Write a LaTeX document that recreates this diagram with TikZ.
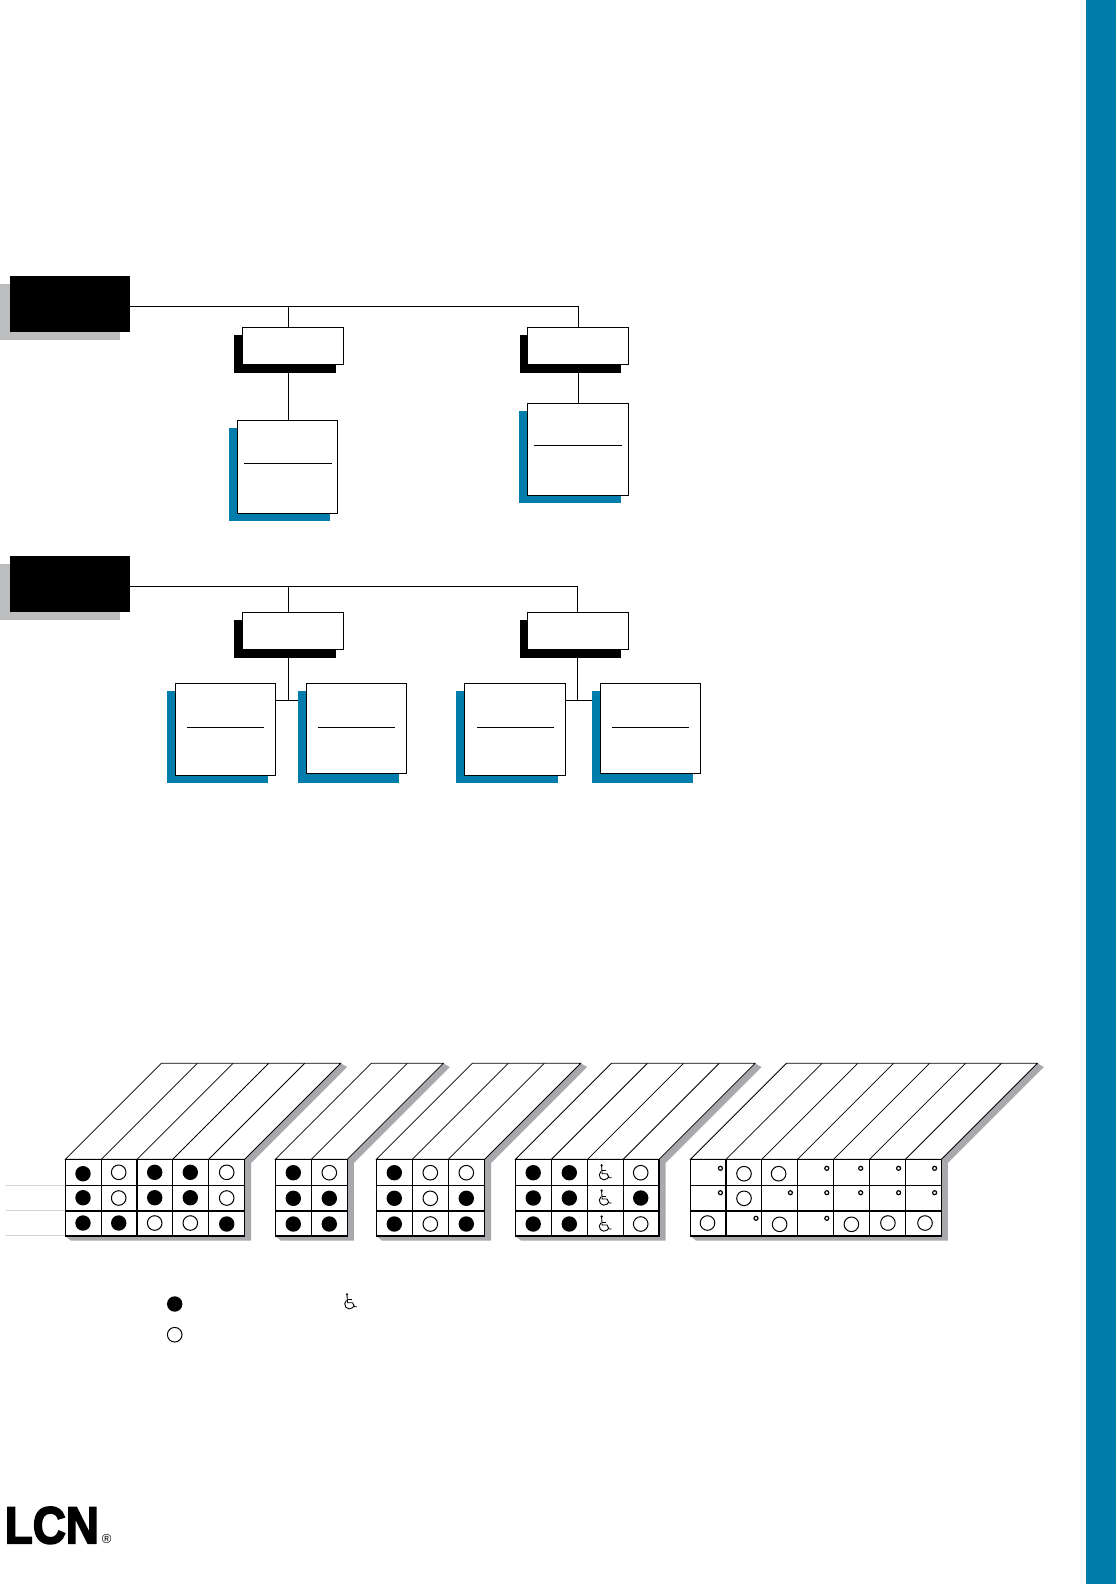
\documentclass[tikz,border=0pt]{standalone}
\usepackage{fontspec}
\usepackage{xcolor}
\usepackage{tikz}
\usetikzlibrary{backgrounds}
\newfontfamily\logofont[FakeBold=3.5]{Liberation Sans Bold}
\newfontfamily\markfont{Liberation Sans}
\definecolor{lcnblue}{HTML}{007DAB}
\definecolor{headgray}{HTML}{BCBEC0}
\definecolor{tablegray}{HTML}{A7A9AC}
\definecolor{rulegray}{HTML}{D1D3D4}
\tikzset{
    headbox/.style={fill=black, inner sep=0pt, outer sep=0pt, anchor=north west, minimum width=60pt, minimum height=28pt},
    subbox/.style={draw, fill=white, line width=0.5pt, inner sep=0pt, outer sep=0pt, anchor=north west, minimum width=50.5pt, minimum height=18.7pt},
    card/.style={draw, fill=white, line width=0.5pt, inner sep=0pt, outer sep=0pt, anchor=north west},
    wire/.style={line width=0.5pt},
    grid/.style={line width=0.55pt},
    skew/.style={line width=0.4pt},
    wheelchair/.pic={
        \fill (-3,-7.5) circle (1.2);
        \draw[line width=0.45pt] (-3,-7) -- (-2.5,1) -- (2.5,1) -- (4.5,5) -- (7,5);
        \draw[line width=0.45pt] (-2.5,-2) -- (1.5,-2);
        \draw[line width=0.45pt] (-3.6,-1.3) arc[start angle=230, end angle=20, radius=4.8];
    }
}

\begin{document}
\begin{tikzpicture}[x=0.5pt, y=-0.5pt]
    \useasboundingbox (0,0) rectangle (1116,1584);
    \fill[lcnblue] (1086,0) rectangle (1116,1584);

    \node[headbox] (heada) at (10,276) {};
    \node[headbox] (headb) at (10,555.5) {};
    \foreach \n/\xa/\ya in {subal/242.5/327.3,subar/527.5/327.3,subbl/242.5/612.3,subbr/527.5/612.3}
        \node[subbox] (\n) at (\xa,\ya) {};
    \foreach \n/\xa/\ya/\xb/\yb/\la/\lb/\ly in {
        cardal/237.5/420.3/337.7/513.3/244/332/463.3,
        cardar/527.5/403/628.5/495/533.5/622/445.5,
        cardbl/175/683.3/275.4/775.3/187/264/727.3,
        cardbm/306.4/683.3/406.4/773/318/395/727.3,
        cardbn/464.3/683.3/565.4/775.3/477/554/727.3,
        cardbr/600.4/683.3/700.4/773/612/689/727.3}
    {
        \node[card, minimum width={(\xb-\xa)*0.5pt}, minimum height={(\yb-\ya)*0.5pt}] (\n) at (\xa,\ya) {};
        \draw[wire] (\la,\ly) -- (\lb,\ly);
    }

    \coordinate (busa) at (288,306.3);
    \coordinate (busaend) at (578,306.3);
    \coordinate (busb) at (288,586.3);
    \coordinate (busbend) at (577.5,586.3);
    \coordinate (hubl) at (288,700.3);
    \coordinate (hubr) at (577.5,700.3);

    \begin{scope}[on background layer]
        \draw[wire] (heada.east |- busa) -- (busaend) -- (cardar.north -| busaend);
        \draw[wire] (busa) -- (cardal.north -| busa);
        \draw[wire] (headb.east |- busb) -- (busbend) -- (hubr);
        \draw[wire] (busb) -- (hubl);
        \draw[wire] (cardbl.east |- hubl) -- (cardbm.west |- hubl);
        \draw[wire] (cardbn.east |- hubr) -- (cardbr.west |- hubr);
        \fill[headgray] (0,284) rectangle (120,340);
        \fill[headgray] (0,563.5) rectangle (120,619.5);
        \foreach \xa/\ya/\xb/\yb in {234/335/336/373,520/335/621/373,234/620/336/657.7,520/620/621/657.7}
            \fill (\xa,\ya) rectangle (\xb,\yb);
        \foreach \xa/\ya/\xb/\yb in {229/428/330/520.7,519/411/621/502.7,167/691/268/782.7,298/691/399/782.7,456/691/558/782.7,592/691/693/782.7}
            \fill[lcnblue] (\xa,\ya) rectangle (\xb,\yb);
    \end{scope}

    \foreach \y in {1185.3,1210.7,1235.3}
        \draw[rulegray, line width=0.4pt] (5.7,\y) -- (65.3,\y);

    \foreach \xa/\xb/\xs in {
        65.3/244.7/{101.3,137,172.7,208.7},
        275.3/347.3/{311.3},
        376.3/484.7/{412.3,448.3},
        515.4/659/{551.4,587.5,623.2},
        690.4/941.4/{726,761.8,797.5,833.6,869.6,905.4}}
    {
        \fill[tablegray] (\xa+5.7,1240.7) -- (\xb+6.5,1240.7) -- (\xb+6.5,1163) -- (\xb+102.5,1067) -- (\xb+96,1063.3) -- (\xb,1159.3) -- (\xa,1236) -- cycle;
        \draw[skew, fill=white] (\xa,1159.3) -- (\xa+96,1063.3) -- (\xb+96,1063.3) -- (\xb,1159.3) -- cycle;
        \fill[white] (\xa,1159.3) rectangle (\xb,1236);
        \foreach \x in \xs {
            \draw[skew] (\x,1159.3) -- ++(96,-96);
            \draw[grid] (\x,1159.3) -- (\x,1236);
        }
        \draw[grid] (\xa,1159.3) rectangle (\xb,1236);
        \draw[grid] (\xa,1185.3) -- (\xb,1185.3) (\xa,1211) -- (\xb,1211);
    }
    \draw[grid] (208.7,1236) -- (208.7,1236.7) -- (244.7,1236.7) -- (244.7,1236);

    \foreach \x/\y in {83/1173.7,83/1197.7,83/1223,118.7/1223,154.7/1172.3,154.7/1197.7,190.3/1172.3,190.3/1197.7,226.7/1224,
        293.3/1172.7,293.3/1198.3,293.3/1224,329.3/1198.3,329.3/1224,
        394.3/1172.7,394.3/1198.3,394.3/1224,466.3/1198.3,466.3/1224,
        533.2/1172.7,533.2/1198,533.2/1224,569.3/1172.7,569.3/1198,569.3/1224,640.7/1198,174.7/1304}
        \fill (\x,\y) circle (7.7);
    \foreach \x/\y in {118.7/1172.3,118.7/1198,154.7/1223,190.3/1223,226.7/1172.3,226.7/1198,
        329.3/1172.7,430.3/1172.7,430.3/1198.3,430.3/1224,466.3/1172.7,
        640.7/1172.7,640.7/1224,
        744/1173.7,778.6/1173.7,744/1198.3,707.5/1223,779.6/1224.3,851.4/1224.3,887.9/1223,925/1223,174.7/1334.7}
        \draw[line width=0.5pt] (\x,\y) circle (7.3);
    \foreach \x/\y in {720.4/1168.3,826.8/1168.3,860.7/1168.3,898.6/1168.3,934.6/1168.3,
        720.4/1192.7,790.4/1192.7,826.8/1192.7,860.7/1192.7,898.6/1192.7,934.6/1192.7,
        756/1218.3,826.8/1218.3}
        \draw[line width=0.6pt] (\x,\y) circle (2);

    \foreach \x/\y in {604.6/1172.7,604.6/1198,604.6/1224,350/1301.7}
        \pic at (\x,\y) {wheelchair};

    \node[inner sep=0pt, anchor=base west, font=\logofont\fontsize{26}{26}\selectfont, xscale=0.88] (logo) at (4.5,1543.3) {LCN};
    \node[inner sep=0pt, font=\markfont\fontsize{6.5}{7}\selectfont] (regmark) at (106.7,1539.3) {®};
\end{tikzpicture}
\end{document}
